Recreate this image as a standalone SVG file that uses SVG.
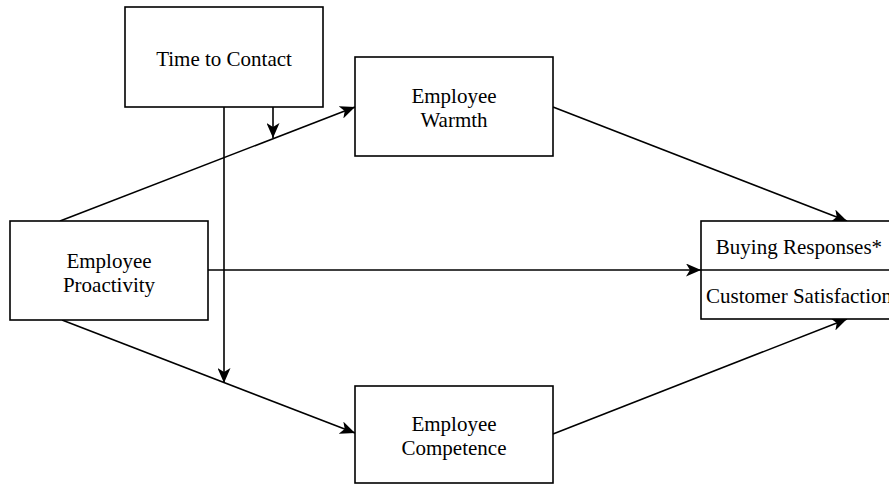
<svg xmlns="http://www.w3.org/2000/svg" width="889" height="485" viewBox="0 0 889 485">
<style>
  .box { fill: #ffffff; stroke: #000000; stroke-width: 1.6; }
  .lbl { font-family: 'Liberation Serif', 'DejaVu Serif', serif; font-size: 21px; fill: #000000; text-anchor: middle; }
  .edge { fill: none; stroke: #000000; stroke-width: 1.6; marker-end: url(#arrow); }
  .plain { fill: none; stroke: #000000; stroke-width: 1.6; }
</style>
<defs>
  <marker id="arrow" viewBox="0 0 15 13" refX="15" refY="6.5" markerWidth="15" markerHeight="13" markerUnits="userSpaceOnUse" orient="auto">
    <path d="M0,0 L15,6.5 L0,13 L4,6.5 z" fill="#000000"/>
  </marker>
</defs>
<rect width="889" height="485" fill="#ffffff"/>
<g id="connectors">
  <line class="edge" x1="60" y1="221" x2="355" y2="107"/>
  <line class="edge" x1="62" y1="320" x2="355" y2="433"/>
  <line class="edge" x1="208" y1="270" x2="701" y2="270"/>
  <line class="edge" x1="553" y1="107" x2="847" y2="221"/>
  <line class="edge" x1="553" y1="434" x2="847" y2="319"/>
  <line class="edge" x1="224" y1="107" x2="224" y2="383"/>
  <line class="edge" x1="273" y1="107" x2="273" y2="138"/>
</g>
<g id="time-to-contact">
  <rect class="box" x="125" y="7" width="198" height="100"/>
  <text class="lbl" x="224" y="66" font-family="Liberation Serif, serif">Time to Contact</text>
</g>
<g id="employee-warmth">
  <rect class="box" x="355" y="57" width="198" height="99"/>
  <text class="lbl" x="454" y="103">Employee</text>
  <text class="lbl" x="454" y="127">Warmth</text>
</g>
<g id="employee-proactivity">
  <rect class="box" x="10" y="221" width="198" height="99"/>
  <text class="lbl" x="109" y="268">Employee</text>
  <text class="lbl" x="109" y="292">Proactivity</text>
</g>
<g id="employee-competence">
  <rect class="box" x="355" y="386" width="198" height="97"/>
  <text class="lbl" x="454" y="431">Employee</text>
  <text class="lbl" x="454" y="455">Competence</text>
</g>
<g id="outcomes">
  <rect class="box" x="701" y="221" width="196" height="98"/>
  <line class="plain" x1="701" y1="270" x2="897" y2="270"/>
  <text class="lbl" x="799" y="254">Buying Responses*</text>
  <text class="lbl" x="799" y="303">Customer Satisfaction</text>
</g>
</svg>
